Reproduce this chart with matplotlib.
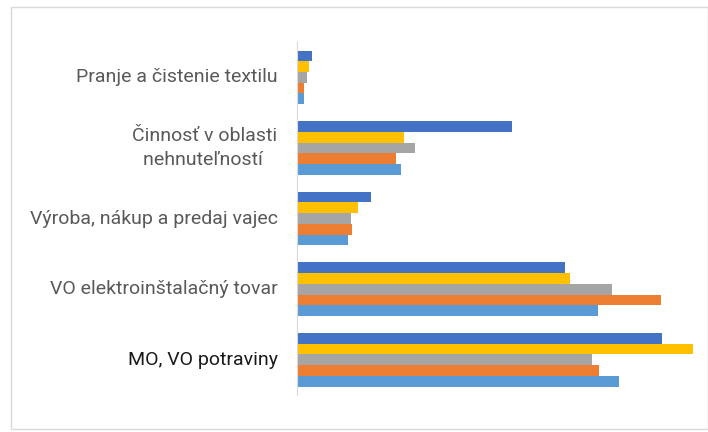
import matplotlib.pyplot as plt
import numpy as np

categories = ['Pranje a čistenie textilu', 'Činnosť v oblasti\nnehnuteľností ',
              'Výroba, nákup a predaj vajec', 'VO elektroinštalačný tovar', 'MO, VO potraviny']
# series listed from the top bar of each group to the bottom bar
s_blue_dark = [14.7, 216, 74.7, 269, 366.6]
s_yellow = [12, 107, 61.3, 274, 397.6]
s_gray = [9.7, 118, 53.7, 316, 296]
s_orange = [7, 99.7, 55.3, 365, 303]
s_blue_light = [7.3, 104.7, 51.3, 301.6, 323]

series = [s_blue_dark, s_yellow, s_gray, s_orange, s_blue_light]
colors = ['#4472C4', '#FFC000', '#A5A5A5', '#ED7D31', '#5B9BD5']

plt.rcParams['font.family'] = ['Roboto', 'DejaVu Sans']

fig = plt.figure(figsize=(7.08, 4.32), dpi=100)
fig.patch.set_facecolor('white')
fig.patches.append(plt.Rectangle((0.016, 0.008), 0.984, 0.975, transform=fig.transFigure,
                                 fill=False, ec='#D9D9D9', lw=1))
ax = fig.add_axes([0.4195, 0.0856, 0.57, 0.817])

n = len(series)
bh = 0.76 / n
y = np.arange(len(categories))
for i, (vals, c) in enumerate(zip(series, colors)):
    ax.barh(y - 0.38 + bh * (i + 0.5), vals, height=bh, color=c)

ax.set_ylim(len(categories) - 0.5, -0.5)
ax.set_xlim(0, 405)
ax.set_yticks(y)
ax.set_yticklabels(categories, fontsize=14, color='#595959', multialignment='center',
                   linespacing=1.45, va='bottom')
for t in ax.get_yticklabels():
    t.set_va('center')
    t.set_y(t.get_position()[1])
ax.get_yticklabels()[-1].set_color('#1a1a1a')
ax.tick_params(axis='y', length=0, pad=14)
ax.set_xticks([])
for s in ['top', 'right', 'bottom']:
    ax.spines[s].set_visible(False)
ax.spines['left'].set_color('#D9D9D9')

fig.savefig('out.png', dpi=100)
